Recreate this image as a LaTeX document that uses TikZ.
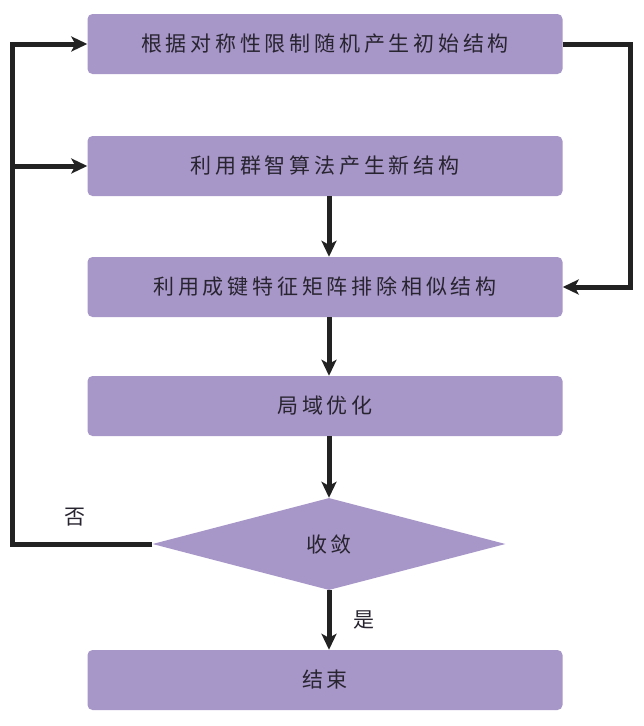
\documentclass[tikz,border=0pt]{standalone}
\usepackage{fontspec}
\newfontfamily\cjk[LetterSpace=18]{Noto Sans CJK SC}
\usetikzlibrary{
  arrows.meta,
  positioning,
  shapes.geometric,
  calc
}
\definecolor{boxpurple}{RGB}{167,150,200}
\definecolor{linegray}{RGB}{34,34,34}
\definecolor{textgray}{RGB}{40,36,48}

\begin{document}
\begin{tikzpicture}[
  x=1pt, y=1pt,
  stage/.style={fill=boxpurple, rounded corners=5pt, minimum width=475pt, minimum height=60pt, inner sep=0pt, text=textgray, font=\cjk\fontsize{21}{25}\selectfont},
  decision/.style={diamond, fill=boxpurple, minimum width=353pt, minimum height=92pt, inner sep=0pt, text=textgray, font=\cjk\fontsize{21}{25}\selectfont},
  flow/.style={-{Stealth[length=16pt, width=15pt, inset=4pt]}, line width=5pt, draw=linegray},
  tag/.style={text=textgray, font=\cjk\fontsize{21}{25}\selectfont}
]
  \useasboundingbox (0,0) rectangle (644,-726);

  % Steps
  \node[stage] (init) at (325,-44) {根据对称性限制随机产生初始结构};
  \node[stage] (swarm) at (325,-166) {利用群智算法产生新结构};
  \node[stage] (filter) at (325,-287) {利用成键特征矩阵排除相似结构};
  \node[stage] (local) at (325,-406) {局域优化};

  % Check
  \node[decision] (conv) at (329,-544) {收敛};

  % End
  \node[stage] (stop) at (325,-680) {结束};

  % Main flow
  \draw[flow] (swarm.south -| conv.north) -- (filter.north -| conv.north);
  \draw[flow] (filter.south -| conv.north) -- (local.north -| conv.north);
  \draw[flow] (local.south -| conv.north) -- (conv.north);
  \draw[flow] (conv.south) -- (stop.north -| conv.south);
  \node[tag] (yes) at (364,-620) {是};

  % Loop back
  \draw[flow] (conv.west) -- ++(-140,0) coordinate (back) |- (init.west);
  \draw[flow] (back |- swarm.west) -- (swarm.west);
  \node[tag] (no) at (75,-517) {否};

  % Initial structures go to the filter
  \draw[flow] (init.east) -- ++(68,0) |- (filter.east);
\end{tikzpicture}
\end{document}
